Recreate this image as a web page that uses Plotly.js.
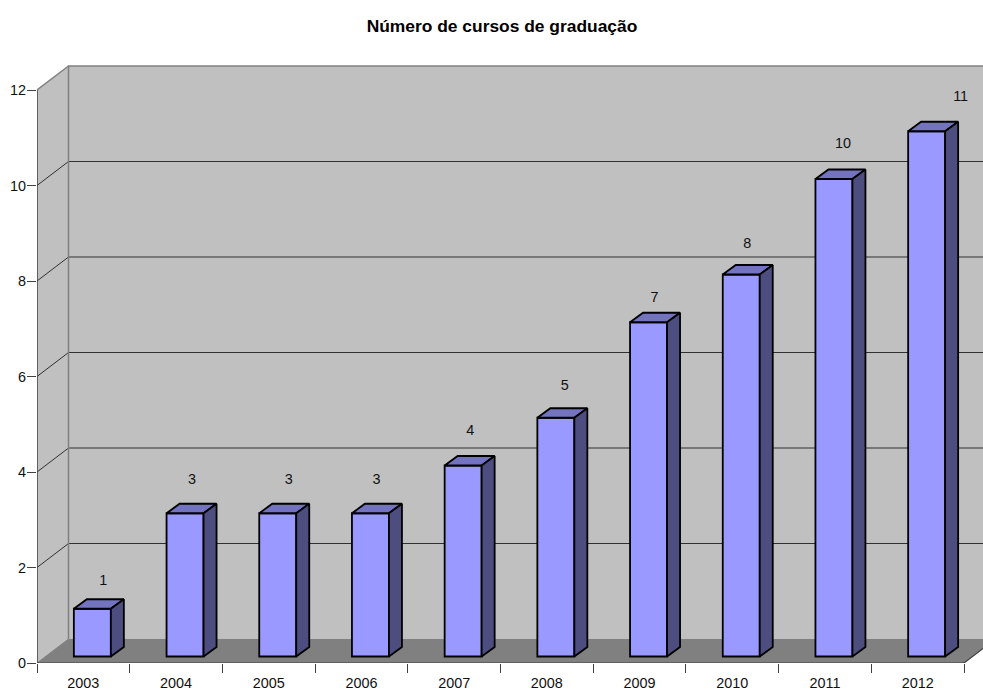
<!DOCTYPE html>
<html><head><meta charset="utf-8">
<script src="https://cdn.plot.ly/plotly-3.0.1.min.js"></script>
<style>html,body{margin:0;padding:0;background:#fff;overflow:hidden}</style>
</head><body><div id="chart" style="width:983px;height:690px"></div>
<script>
const years = ['2003','2004','2005','2006','2007','2008','2009','2010','2011','2012'];
const courses = [1,3,3,3,4,5,7,8,10,11];
const yTicks = [0,2,4,6,8,10,12];
// label nudges relative to bar top centre, px
const labelDx = [11,7,11,6,7,9,6,6,9,34];
const labelLift = [27,33,33,33,34,31,24,30,35,34];

const W=983,H=690,L=37,B=663,catPx=92.7,unitPx=47.75,font='"Liberation Sans", Arial, sans-serif';
const px=p=>p/catPx, py=p=>p/unitPx;       // pixels to axis units
const wallDx=px(31.5), wallDy=py(24);       // depth of the box
const barDx=px(13), barDy=py(9.5);          // depth of a bar
const barShiftX=px(9), barBase=py(6.5), barW=px(37);
const n=years.length, xMax=(W-L)/catPx, yMax=(B-58)/unitPx;
const dark='#404040', edge='#808080';

const poly=(pts,fill,line,width)=>({type:'path',xref:'x',yref:'y',layer:'below',
  path:'M'+pts.map(p=>p[0]+','+p[1]).join('L')+(fill?'Z':''),
  fillcolor:fill||'rgba(0,0,0,0)',line:{color:line||'rgba(0,0,0,0)',width:width||0}});
const shapes=[
  poly([[wallDx,wallDy],[xMax+1,wallDy],[xMax+1,12+wallDy],[wallDx,12+wallDy]],'#c0c0c0'),
  poly([[0,0],[wallDx,wallDy],[wallDx,12+wallDy],[0,12]],'#c0c0c0'),
  poly([[0,0],[n,0],[n+wallDx,wallDy],[wallDx,wallDy]],'#808080')
];
yTicks.slice(1,-1).forEach(v=>{
  shapes.push(poly([[0,v],[wallDx,v+wallDy],[xMax+1,v+wallDy]],null,'#303030',1));
});
shapes.push(poly([[wallDx,wallDy],[wallDx,12+wallDy],[xMax+1,12+wallDy]],null,edge,1.5));
shapes.push(poly([[0,12],[wallDx,12+wallDy]],null,edge,1.5));
shapes.push(poly([[0,0],[wallDx,wallDy]],null,edge,1));

const centers=years.map((_,i)=>i+0.5+barShiftX);
const traces=[{type:'bar',x:centers,y:courses,base:courses.map(()=>barBase),width:barW,
  marker:{color:'#9999ff',line:{color:'#000',width:1.8}},hoverinfo:'skip',showlegend:false}];
courses.forEach((v,i)=>{
  const x0=centers[i]-barW/2,x1=centers[i]+barW/2,t=v+barBase;
  traces.push({type:'scatter',mode:'lines',x:[x0,x1,x1+barDx,x0+barDx,x0],y:[t,t,t+barDy,t+barDy,t],
    fill:'toself',fillcolor:'#7373bf',line:{color:'#000',width:1.8},hoverinfo:'skip',showlegend:false});
  traces.push({type:'scatter',mode:'lines',x:[x1,x1+barDx,x1+barDx,x1,x1],y:[barBase,barBase+barDy,t+barDy,t,barBase],
    fill:'toself',fillcolor:'#4d4d80',line:{color:'#000',width:1.8},hoverinfo:'skip',showlegend:false});
});
// axis lines, floor edge
traces.push({type:'scatter',mode:'lines',x:[0,0],y:[0,12],cliponaxis:false,line:{color:dark,width:1.5},hoverinfo:'skip',showlegend:false});
traces.push({type:'scatter',mode:'lines',x:[0,n,n+wallDx],y:[0,0,wallDy],cliponaxis:false,line:{color:dark,width:1.2},hoverinfo:'skip',showlegend:false});
traces.push({type:'scatter',mode:'text',x:centers.map((c,i)=>c+px(labelDx[i])),y:courses.map((v,i)=>v+barBase+py(labelLift[i])),
  text:courses.map(String),textposition:'middle center',textfont:{family:font,size:14.4,color:'#111'},cliponaxis:false,hoverinfo:'skip',showlegend:false});

const layout={width:W,height:H,margin:{l:L,r:0,t:58,b:H-B,pad:0},paper_bgcolor:'#fff',plot_bgcolor:'rgba(0,0,0,0)',showlegend:false,
  title:{text:'Número de cursos de graduação',x:502/W,xref:'container',xanchor:'center',y:1-26/H,yref:'container',yanchor:'middle',
    font:{family:font,size:17.4,color:'#000',weight:700}},
  xaxis:{range:[0,xMax],tickmode:'array',tickvals:years.map((_,i)=>i+0.5),ticktext:years,ticks:'',ticklen:0,ticklabelstandoff:10,
    showgrid:false,zeroline:false,showline:false,tickfont:{family:font,size:14.4,color:'#111'},
    minor:{tickmode:'array',tickvals:Array.from({length:n+1},(_,i)=>i),ticks:'outside',ticklen:9,tickwidth:1,tickcolor:dark,showgrid:false}},
  yaxis:{range:[0,yMax],tickmode:'array',tickvals:yTicks,ticks:'outside',ticklen:9,tickwidth:1,tickcolor:dark,ticklabelstandoff:-2,
    showgrid:false,zeroline:false,showline:false,tickfont:{family:font,size:14.4,color:'#111'}},
  shapes};
Plotly.newPlot('chart',traces,layout,{displayModeBar:false,responsive:false});
</script></body></html>
